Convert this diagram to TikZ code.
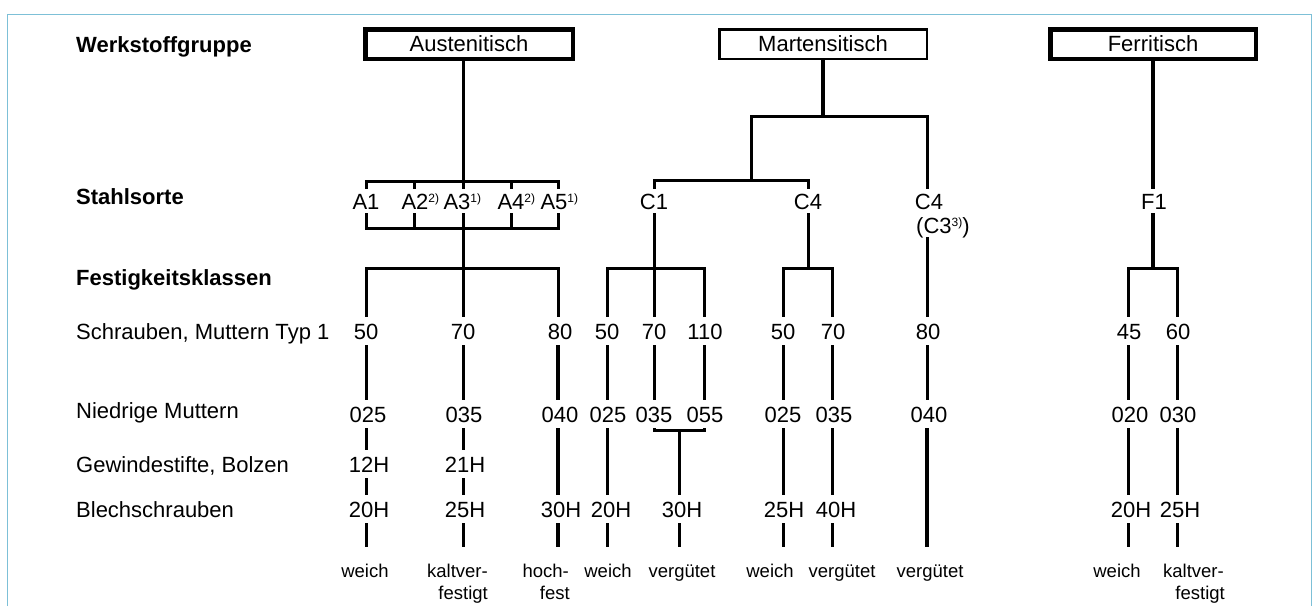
\documentclass[tikz,border=0pt]{standalone}
\usepackage{fontspec}
\setmainfont{Liberation Sans}
\newcommand\fntL{\fontsize{22}{26}\selectfont}
\newcommand\fntS{\fontsize{18.5}{22}\selectfont}
\newcommand\fnsup[1]{\rlap{\raisebox{6.5pt}{\fontsize{12}{12}\selectfont #1}}}
\newcommand\fnsupw[1]{\raisebox{6.5pt}{\fontsize{12}{12}\selectfont #1}}
\definecolor{framecol}{RGB}{125,192,215}
\begin{document}
\begin{tikzpicture}[x=1pt,y=-1pt,
  ln/.style={line width=3pt},
  thk/.style={line width=4.5pt},
  mid/.style={line width=3.7pt},
  grp/.style={draw, line width=4.5pt, minimum width=207.5pt, minimum height=29.5pt, inner sep=0pt, font=\fntL},
  rowlab/.style={anchor=base west, inner sep=0pt, font=\fntL},
  hd/.style={rowlab, font=\fntL\bfseries},
  sorte/.style={anchor=base, inner xsep=0pt, inner ysep=4pt, text height=16pt, text depth=0pt, font=\fntL},
  val/.style={anchor=base, inner xsep=0pt, inner ysep=6pt, text height=16pt, text depth=0pt, font=\fntL},
  eig/.style={anchor=base, inner sep=0pt, font=\fntS},
  eigr/.style={anchor=base east, inner sep=0pt, font=\fntS},
]
\useasboundingbox (0,0) rectangle (1314,606);
\fill[white] (0,0) rectangle (1314,606);
\draw[framecol, line width=1pt] (7,606) -- (7,14) -- (1311,14) -- (1311,606);

% row labels
\node[hd] (lWerk) at (76,52) {Werkstoffgruppe};
\node[hd] (lStahl) at (76,204) {Stahlsorte};
\node[hd] (lFest) at (76,285) {Festigkeitsklassen};
\node[rowlab] (lSchr) at (76,339) {Schrauben, Muttern Typ 1};
\node[rowlab] (lNied) at (76,418) {Niedrige Muttern};
\node[rowlab] (lGew) at (76,472) {Gewindestifte, Bolzen};
\node[rowlab] (lBlech) at (76,517) {Blechschrauben};

% group boxes
\node[grp] (aus) at (469,44) {Austenitisch};
\node[grp, line width=2.5pt] (mar) at (823,44) {Martensitisch};
\node[grp, minimum width=205.5pt] (fer) at (1153,44) {Ferritisch};

% column coordinates
\coordinate (k1) at (366,0);
\coordinate (kA2) at (414,0);
\coordinate (k2) at (463,0);
\coordinate (kA4) at (511,0);
\coordinate (k3) at (558,0);
\coordinate (k4) at (607,0);
\coordinate (k5) at (654,0);
\coordinate (k6) at (704,0);
\coordinate (kc) at (679,0);
\coordinate (k7) at (783,0);
\coordinate (k8) at (832,0);
\coordinate (k9) at (927,0);
\coordinate (k10) at (1128,0);
\coordinate (k11) at (1177,0);

% Stahlsorte
\node[sorte] (A1) at (366,209) {A1};
\node[sorte] (A2) at (415,209) {A2\fnsup{2)}};
\node[sorte] (A3) at (457,209) {A3\fnsup{1)}};
\node[sorte] (A4) at (511,209) {A4\fnsup{2)}};
\node[sorte] (A5) at (554,209) {A5\fnsup{1)}};
\node[sorte] (C1) at (654,209) {C1};
\node[sorte] (C4) at (808,209) {C4};
\node[sorte] (C4b) at (929,209) {C4};
\node[sorte, anchor=base west] (C3) at (916,233) {(C3\fnsupw{3)})};
\node[sorte] (F1) at (1154,209) {F1};

% Schrauben, Muttern Typ 1
\node[val] (v50a) at (366,339) {50};
\node[val] (v70a) at (463,339) {70};
\node[val] (v80a) at (560,339) {80};
\node[val] (v50c) at (607,339) {50};
\node[val] (v70c) at (654,339) {70};
\node[val] (v110c) at (705,339) {110};
\node[val] (v50d) at (783,339) {50};
\node[val] (v70d) at (833,339) {70};
\node[val] (v80e) at (928,339) {80};
\node[val] (v45f) at (1129,339) {45};
\node[val] (v60f) at (1178,339) {60};

% Niedrige Muttern
\node[val] (n025a) at (368,422) {025};
\node[val] (n035a) at (464,422) {035};
\node[val] (n040a) at (560,422) {040};
\node[val] (n025c) at (608,422) {025};
\node[val] (n035c) at (654,422) {035};
\node[val] (n055c) at (705,422) {055};
\node[val] (n025d) at (783,422) {025};
\node[val] (n035d) at (834,422) {035};
\node[val] (n040e) at (929,422) {040};
\node[val] (n020f) at (1130,422) {020};
\node[val] (n030f) at (1178,422) {030};

% Gewindestifte, Bolzen
\node[val] (g12a) at (369,472) {12H};
\node[val] (g21a) at (465,472) {21H};

% Blechschrauben
\node[val] (b20a) at (369,517) {20H};
\node[val] (b25a) at (465,517) {25H};
\node[val] (b30a) at (561,517) {30H};
\node[val] (b20c) at (611,517) {20H};
\node[val] (b30c) at (682,517) {30H};
\node[val] (b25d) at (784,517) {25H};
\node[val] (b40d) at (836,517) {40H};
\node[val] (b20f) at (1131,517) {20H};
\node[val] (b25f) at (1180,517) {25H};

% bottom texts
\node[eig] (w1) at (365,577) {weich};
\node[eigr] (kv1) at (488,577) {kaltver-};
\node[eigr] (kv1b) at (488,599) {festigt};
\node[eigr] (hf1) at (569,577) {hoch-};
\node[eigr] (hf1b) at (570,599) {fest};
\node[eig] (w2) at (608,577) {weich};
\node[eig] (vg2) at (682,577) {vergütet};
\node[eig] (w3) at (770,577) {weich};
\node[eig] (vg3) at (842,577) {vergütet};
\node[eig] (vg4) at (930,577) {vergütet};
\node[eig] (w5) at (1117,577) {weich};
\node[eigr] (kv5) at (1224,577) {kaltver-};
\node[eigr] (kv5b) at (1225,599) {festigt};

% end points of the columns
\coordinate (e1) at (366,547);
\coordinate (e2) at (463,547);
\coordinate (e3) at (558,547);
\coordinate (e4) at (607,547);
\coordinate (e5) at (679,547);
\coordinate (e6) at (783,547);
\coordinate (e7) at (832,547);
\coordinate (e8) at (927,547);
\coordinate (e9) at (1128,547);
\coordinate (e10) at (1177,547);

% ---------- Austenitisch tree
\coordinate (tbA) at (463,181);
\coordinate (sbA) at (463,228);
\coordinate (brA) at (463,268);
\draw[ln] (aus.south -| tbA) -- (tbA);
\draw[ln] (A1.north) |- (tbA) -| (A5.north -| k3);
\draw[ln] (A2.north -| kA2) -- (tbA -| kA2);
\draw[ln] (A3.north -| k2) -- (tbA);
\draw[ln] (A4.north -| kA4) -- (tbA -| kA4);
\draw[ln] (A1.south) |- (sbA) -| (A5.south -| k3);
\draw[ln] (A2.south -| kA2) -- (sbA -| kA2);
\draw[ln] (A3.south -| k2) -- (sbA);
\draw[ln] (A4.south -| kA4) -- (sbA -| kA4);
\draw[ln] (sbA) -- (v70a.north -| k2);
\draw[ln] (v50a.north -| k1) |- (brA) -| (v80a.north -| k3);

\draw[ln] (v50a.south -| k1) -- (n025a.north -| k1);
\draw[ln] (n025a.south -| k1) -- (g12a.north -| k1);
\draw[ln] (g12a.south -| k1) -- (b20a.north -| k1);
\draw[ln] (b20a.south -| k1) -- (e1);

\draw[ln] (v70a.south -| k2) -- (n035a.north -| k2);
\draw[ln] (n035a.south -| k2) -- (g21a.north -| k2);
\draw[ln] (g21a.south -| k2) -- (b25a.north -| k2);
\draw[ln] (b25a.south -| k2) -- (e2);

\draw[mid] (v80a.south -| k3) -- (n040a.north -| k3);
\draw[mid] (n040a.south -| k3) -- (b30a.north -| k3);
\draw[mid] (b30a.south -| k3) -- (e3);

% ---------- Martensitisch tree
\coordinate (mbr) at (823,116);
\coordinate (mL) at (751,116);
\coordinate (mR) at (927,116);
\coordinate (cbr) at (751,180);
\coordinate (brC1) at (654,268);
\coordinate (brC4) at (808,268);
\coordinate (cb) at (679,430);
\draw[thk] (mar.south) -- (mbr);
\draw[ln] (cbr) -- (mL) -- (mR) -- (C4b.north -| mR);
\draw[ln] (C1.north) |- (cbr) -| (C4.north);
\draw[ln] (C1.south) -- (brC1);
\draw[ln] (v50c.north -| k4) |- (brC1) -| (v110c.north -| k6);
\draw[ln] (brC1) -- (v70c.north -| k5);
\draw[ln] (C4.south) -- (brC4);
\draw[ln] (v50d.north -| k7) |- (brC4) -| (v70d.north -| k8);
\draw[ln] (C3.south -| mR) -- (v80e.north -| k9);

\draw[ln] (v50c.south -| k4) -- (n025c.north -| k4);
\draw[ln] (n025c.south -| k4) -- (b20c.north -| k4);
\draw[ln] (b20c.south -| k4) -- (e4);
\draw[ln] (v70c.south -| k5) -- (n035c.north -| k5);
\draw[ln] (v110c.south -| k6) -- (n055c.north -| k6);
\draw[ln] (n035c.south -| k5) |- (cb) -| (n055c.south -| k6);
\draw[ln] (cb) -- (b30c.north -| kc);
\draw[ln] (b30c.south -| kc) -- (e5);

\draw[ln] (v50d.south -| k7) -- (n025d.north -| k7);
\draw[ln] (n025d.south -| k7) -- (b25d.north -| k7);
\draw[ln] (b25d.south -| k7) -- (e6);
\draw[ln] (v70d.south -| k8) -- (n035d.north -| k8);
\draw[ln] (n035d.south -| k8) -- (b40d.north -| k8);
\draw[ln] (b40d.south -| k8) -- (e7);

\draw[ln] (v80e.south -| k9) -- (n040e.north -| k9);
\draw[mid] (n040e.south -| k9) -- (e8);

% ---------- Ferritisch tree
\coordinate (brF) at (1153,268);
\draw[thk] (fer.south) -- (F1.north -| brF);
\draw[thk] (F1.south -| brF) -- (brF);
\draw[ln] (v45f.north -| k10) |- (brF) -| (v60f.north -| k11);
\draw[ln] (v45f.south -| k10) -- (n020f.north -| k10);
\draw[ln] (n020f.south -| k10) -- (b20f.north -| k10);
\draw[ln] (b20f.south -| k10) -- (e9);
\draw[ln] (v60f.south -| k11) -- (n030f.north -| k11);
\draw[ln] (n030f.south -| k11) -- (b25f.north -| k11);
\draw[ln] (b25f.south -| k11) -- (e10);
\end{tikzpicture}
\end{document}
